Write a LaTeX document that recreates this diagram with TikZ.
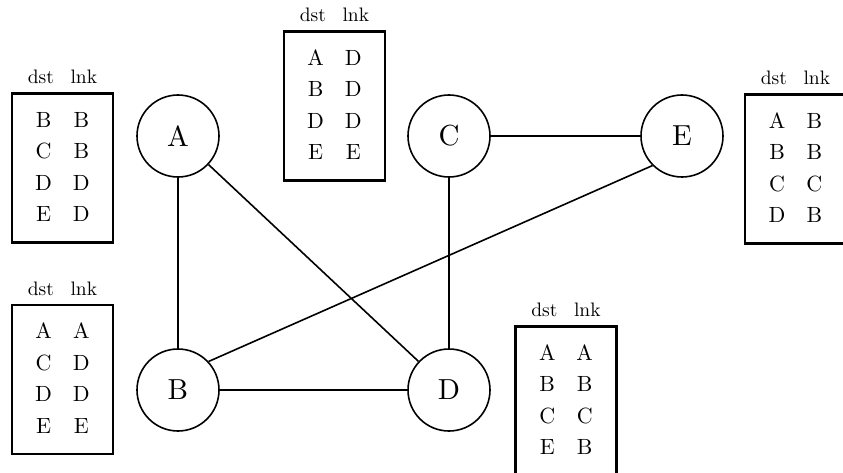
\documentclass[tikz,border=0pt]{standalone}
\usepackage{amsmath,amssymb}
\usepackage{fontspec}
\setmainfont{lmroman10-regular}[Extension=.otf]
\usepackage{tikz}

\tikzset{
  router/.style={draw, circle, line width=1.6pt, minimum size=82pt, inner sep=0pt,
    font=\fontsize{29}{34}\selectfont},
  rtable/.style={draw, rectangle, line width=2.2pt, minimum width=101pt, minimum height=149pt,
    inner sep=0pt, font=\fontsize{22}{31.5}\selectfont,
    label={[label distance=8pt, inner sep=0pt, font=\fontsize{19.5}{22}\selectfont]above:dst\hspace{0.85em}lnk}},
  link/.style={line width=1.6pt}
}
\newcommand{\rows}[1]{\begin{tabular}{@{}c@{\hspace{21pt}}c@{}}#1\end{tabular}}

\begin{document}
\begin{tikzpicture}[x=1pt, y=-1pt]
      \useasboundingbox (0,0) rectangle (843,473);
      % routers
      \node [router] (A) at (178,136) {A};
      \node [router] (B) at (178,390) {B};
      \node [router] (C) at (449,136) {C};
      \node [router] (D) at (449,390) {D};
      \node [router] (E) at (682,136) {E};
      % links
      \draw [link] (A) -- (B);
      \draw [link] (A) -- (D);
      \draw [link] (B) -- (D);
      \draw [link] (C) -- (D);
      \draw [link] (C) -- (E);
      \draw [link] (B.43) -- (E.225);
      % routing tables
      \node [rtable] (tabA) at (62.5,168) {\rows{B & B\\ C & B\\ D & D\\ E & D}};
      \node [rtable] (tabC) at (334.5,106) {\rows{A & D\\ B & D\\ D & D\\ E & E}};
      \node [rtable] (tabE) at (795.5,169) {\rows{A & B\\ B & B\\ C & C\\ D & B}};
      \node [rtable] (tabB) at (62.5,379.5) {\rows{A & A\\ C & D\\ D & D\\ E & E}};
      \node [rtable] (tabD) at (566,401) {\rows{A & A\\ B & B\\ C & C\\ E & B}};
    \end{tikzpicture}
\end{document}
